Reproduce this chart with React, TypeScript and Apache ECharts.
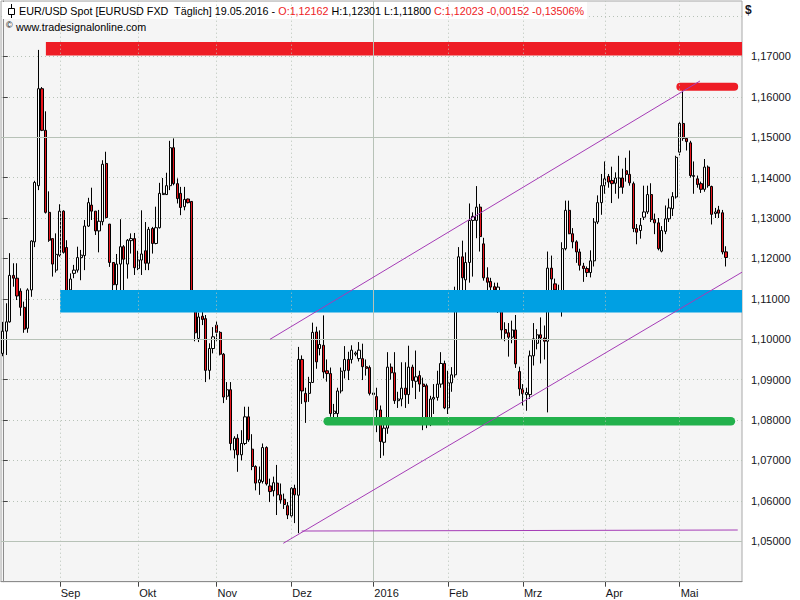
import React, { useEffect, useRef } from 'react';
import * as echarts from 'echarts';

// ---------- data ----------
const START_DATE = '2015-08-10';
const END_DATE = '2016-05-19';
const EMPTY_SLOTS_AFTER = 4;

// [open, close, low, high]
const aug2015 = [
  [1.0965, 1.1020, 1.0958, 1.1043], [1.1020, 1.1043, 1.0961, 1.1089], [1.1043, 1.1158, 1.1041, 1.1213],
  [1.1158, 1.1151, 1.1130, 1.1188], [1.1151, 1.1107, 1.1097, 1.1188], [1.1119, 1.1079, 1.1058, 1.1126],
  [1.1079, 1.1025, 1.1016, 1.1093], [1.1027, 1.1122, 1.1016, 1.1126], [1.1122, 1.1243, 1.1105, 1.1245],
  [1.1241, 1.1388, 1.1228, 1.1392], [1.1380, 1.1620, 1.1369, 1.1716], [1.1620, 1.1517, 1.1515, 1.1624],
  [1.1517, 1.1314, 1.1311, 1.1564], [1.1314, 1.1245, 1.1241, 1.1366], [1.1249, 1.1186, 1.1155, 1.1249],
  [1.1171, 1.1210, 1.1165, 1.1262],
];
const sep2015 = [
  [1.1208, 1.1317, 1.1204, 1.1334], [1.1317, 1.1215, 1.1212, 1.1319], [1.1227, 1.1120, 1.1090, 1.1245],
  [1.1122, 1.1149, 1.1090, 1.1163], [1.1163, 1.1171, 1.1151, 1.1184], [1.1171, 1.1202, 1.1165, 1.1229],
  [1.1202, 1.1208, 1.1146, 1.1221], [1.1207, 1.1280, 1.1171, 1.1295], [1.1280, 1.1338, 1.1278, 1.1350],
  [1.1332, 1.1317, 1.1295, 1.1375], [1.1317, 1.1268, 1.1258, 1.1317], [1.1268, 1.1292, 1.1215, 1.1320],
  [1.1291, 1.1433, 1.1282, 1.1443], [1.1435, 1.1301, 1.1299, 1.1464], [1.1285, 1.1190, 1.1179, 1.1285],
  [1.1190, 1.1135, 1.1100, 1.1190], [1.1135, 1.1186, 1.1110, 1.1211], [1.1186, 1.1229, 1.1110, 1.1297],
  [1.1229, 1.1198, 1.1120, 1.1233], [1.1186, 1.1245, 1.1150, 1.1248], [1.1244, 1.1249, 1.1212, 1.1262],
  [1.1249, 1.1177, 1.1159, 1.1263],
];
const oct2015 = [
  [1.1175, 1.1196, 1.1171, 1.1219], [1.1196, 1.1211, 1.1159, 1.1319], [1.1219, 1.1188, 1.1171, 1.1290],
  [1.1188, 1.1272, 1.1171, 1.1278], [1.1274, 1.1237, 1.1212, 1.1278], [1.1237, 1.1276, 1.1235, 1.1328],
  [1.1276, 1.1361, 1.1274, 1.1387], [1.1358, 1.1361, 1.1357, 1.1399], [1.1358, 1.1380, 1.1357, 1.1412],
  [1.1380, 1.1474, 1.1369, 1.1491], [1.1474, 1.1385, 1.1381, 1.1497], [1.1385, 1.1348, 1.1336, 1.1398],
  [1.1361, 1.1326, 1.1307, 1.1377], [1.1328, 1.1346, 1.1319, 1.1377], [1.1347, 1.1338, 1.1336, 1.1348],
  [1.1341, 1.1107, 1.1100, 1.1342], [1.1105, 1.1016, 1.0995, 1.1110], [1.1002, 1.1055, 1.0993, 1.1066],
  [1.1057, 1.1049, 1.1035, 1.1070], [1.1051, 1.0923, 1.0894, 1.1060], [1.0923, 1.0977, 1.0901, 1.0990],
  [1.0977, 1.1006, 1.0965, 1.1030],
];
const nov2015 = [
  [1.1035, 1.1017, 1.0995, 1.1045], [1.1017, 1.0963, 1.0960, 1.1020], [1.0963, 1.0857, 1.0842, 1.0966],
  [1.0859, 1.0875, 1.0850, 1.0894], [1.0875, 1.0742, 1.0725, 1.0894], [1.0726, 1.0755, 1.0705, 1.0760],
  [1.0755, 1.0714, 1.0672, 1.0765], [1.0714, 1.0742, 1.0700, 1.0775], [1.0742, 1.0808, 1.0738, 1.0833],
  [1.0808, 1.0751, 1.0746, 1.0833], [1.0728, 1.0685, 1.0676, 1.0765], [1.0685, 1.0644, 1.0626, 1.0688],
  [1.0645, 1.0652, 1.0615, 1.0685], [1.0648, 1.0732, 1.0643, 1.0742], [1.0732, 1.0642, 1.0638, 1.0735],
  [1.0637, 1.0623, 1.0597, 1.0655], [1.0625, 1.0645, 1.0611, 1.0660], [1.0644, 1.0615, 1.0565, 1.0689],
  [1.0615, 1.0602, 1.0593, 1.0643], [1.0604, 1.0591, 1.0580, 1.0618], [1.0588, 1.0565, 1.0555, 1.0597],
];
const dec2015 = [
  [1.0563, 1.0631, 1.0558, 1.0634], [1.0631, 1.0615, 1.0545, 1.0640], [1.0614, 1.0950, 1.0520, 1.0981],
  [1.0950, 1.0872, 1.0840, 1.0960], [1.0866, 1.0845, 1.0793, 1.0880], [1.0866, 1.0893, 1.0845, 1.0907],
  [1.0893, 1.1017, 1.0892, 1.1041], [1.1018, 1.0944, 1.0927, 1.1031], [1.0977, 1.0987, 1.0960, 1.1022],
  [1.0985, 1.0919, 1.0903, 1.1059], [1.0922, 1.0915, 1.0895, 1.0950], [1.0915, 1.0816, 1.0808, 1.0930],
  [1.0816, 1.0822, 1.0800, 1.0840], [1.0816, 1.0872, 1.0805, 1.0880], [1.0872, 1.0921, 1.0866, 1.0930],
  [1.0922, 1.0950, 1.0903, 1.0983], [1.0950, 1.0923, 1.0899, 1.0969], [1.0950, 1.0973, 1.0940, 1.0985],
  [1.0963, 1.0966, 1.0958, 1.0970], [1.0952, 1.0973, 1.0945, 1.0993], [1.0952, 1.0932, 1.0899, 1.0989],
  [1.0932, 1.0928, 1.0910, 1.0950], [1.0930, 1.0866, 1.0861, 1.0935],
];
const jan2016 = [
  [1.0863, 1.0867, 1.0855, 1.0873], [1.0858, 1.0825, 1.0770, 1.0880], [1.0825, 1.0747, 1.0706, 1.0836],
  [1.0745, 1.0780, 1.0712, 1.0800], [1.0780, 1.0931, 1.0766, 1.0968], [1.0931, 1.0917, 1.0900, 1.0940],
  [1.0917, 1.0848, 1.0840, 1.0968], [1.0848, 1.0852, 1.0830, 1.0870], [1.0852, 1.0879, 1.0834, 1.0943],
  [1.0879, 1.0863, 1.0830, 1.0943], [1.0863, 1.0931, 1.0840, 1.0984], [1.0931, 1.0898, 1.0880, 1.0937],
  [1.0896, 1.0907, 1.0852, 1.0972], [1.0910, 1.0889, 1.0870, 1.0922], [1.0889, 1.0883, 1.0775, 1.0905],
  [1.0885, 1.0795, 1.0780, 1.0890], [1.0795, 1.0852, 1.0785, 1.0860], [1.0852, 1.0856, 1.0815, 1.0889],
  [1.0856, 1.0889, 1.0848, 1.0922], [1.0889, 1.0940, 1.0880, 1.0968], [1.0940, 1.0830, 1.0827, 1.0947],
];
const feb2016 = [
  [1.0830, 1.0892, 1.0815, 1.0922], [1.0892, 1.0912, 1.0870, 1.0931], [1.0912, 1.1120, 1.0905, 1.1130],
  [1.1120, 1.1204, 1.1090, 1.1228], [1.1204, 1.1152, 1.1105, 1.1244], [1.1147, 1.1190, 1.1120, 1.1215],
  [1.1190, 1.1294, 1.1140, 1.1336], [1.1294, 1.1304, 1.1155, 1.1314], [1.1294, 1.1327, 1.1250, 1.1379],
  [1.1327, 1.1254, 1.1217, 1.1335], [1.1236, 1.1152, 1.1145, 1.1251], [1.1152, 1.1141, 1.1120, 1.1178],
  [1.1143, 1.1129, 1.1110, 1.1152], [1.1130, 1.1122, 1.1090, 1.1140], [1.1120, 1.1129, 1.1065, 1.1140],
  [1.1100, 1.1023, 1.1001, 1.1110], [1.1024, 1.1015, 1.0995, 1.1042], [1.1016, 1.1005, 1.0957, 1.1040],
  [1.1005, 1.1023, 1.0990, 1.1046], [1.1023, 1.0939, 1.0929, 1.1060], [1.0920, 1.0877, 1.0860, 1.0932],
];
const mar2016 = [
  [1.0877, 1.0865, 1.0836, 1.0889], [1.0863, 1.0868, 1.0823, 1.0880], [1.0863, 1.0959, 1.0852, 1.0972],
  [1.0959, 1.1001, 1.0935, 1.1040], [1.0990, 1.1011, 1.0975, 1.1025], [1.1011, 1.1003, 1.0940, 1.1054],
  [1.1003, 1.0995, 1.0950, 1.1034], [1.0995, 1.1176, 1.0819, 1.1217], [1.1176, 1.1149, 1.1120, 1.1207],
  [1.1137, 1.1122, 1.1100, 1.1150], [1.1120, 1.1100, 1.1090, 1.1135], [1.1105, 1.1224, 1.1056, 1.1240],
  [1.1224, 1.1319, 1.1220, 1.1343], [1.1319, 1.1261, 1.1260, 1.1343], [1.1261, 1.1241, 1.1225, 1.1275],
  [1.1241, 1.1216, 1.1189, 1.1245], [1.1216, 1.1183, 1.1170, 1.1224], [1.1181, 1.1175, 1.1142, 1.1189],
  [1.1175, 1.1165, 1.1154, 1.1180], [1.1165, 1.1194, 1.1153, 1.1220], [1.1194, 1.1290, 1.1180, 1.1300],
  [1.1290, 1.1338, 1.1285, 1.1356], [1.1338, 1.1380, 1.1308, 1.1409],
];
const apr2016 = [
  [1.1380, 1.1397, 1.1360, 1.1440], [1.1403, 1.1389, 1.1375, 1.1409], [1.1393, 1.1385, 1.1337, 1.1427],
  [1.1386, 1.1399, 1.1360, 1.1413], [1.1376, 1.1399, 1.1348, 1.1454], [1.1399, 1.1376, 1.1360, 1.1422],
  [1.1417, 1.1408, 1.1390, 1.1449], [1.1408, 1.1387, 1.1380, 1.1467], [1.1385, 1.1274, 1.1265, 1.1390],
  [1.1274, 1.1265, 1.1235, 1.1285], [1.1269, 1.1282, 1.1249, 1.1300], [1.1302, 1.1315, 1.1295, 1.1380],
  [1.1315, 1.1358, 1.1310, 1.1380], [1.1358, 1.1296, 1.1290, 1.1386], [1.1296, 1.1288, 1.1260, 1.1311],
  [1.1288, 1.1224, 1.1220, 1.1300], [1.1218, 1.1269, 1.1215, 1.1280], [1.1267, 1.1298, 1.1260, 1.1331],
  [1.1298, 1.1325, 1.1290, 1.1348], [1.1323, 1.1353, 1.1305, 1.1364], [1.1352, 1.1450, 1.1348, 1.1454],
];
const may2016 = [
  [1.1463, 1.1534, 1.1455, 1.1537], [1.1534, 1.1497, 1.1491, 1.1616], [1.1497, 1.1489, 1.1467, 1.1500],
  [1.1486, 1.1405, 1.1400, 1.1491], [1.1403, 1.1405, 1.1360, 1.1440], [1.1397, 1.1383, 1.1375, 1.1405],
  [1.1385, 1.1371, 1.1362, 1.1390], [1.1371, 1.1426, 1.1365, 1.1446], [1.1426, 1.1380, 1.1375, 1.1430],
  [1.1378, 1.1309, 1.1284, 1.1380], [1.1311, 1.1315, 1.1300, 1.1325], [1.1320, 1.1312, 1.1300, 1.1330],
  [1.1313, 1.1216, 1.1210, 1.1320], [1.12162, 1.12023, 1.11800, 1.12301],
];

const MONTH_NAMES = ['Jan', 'Feb', 'Mrz', 'Apr', 'Mai', 'Jun', 'Jul', 'Aug', 'Sep', 'Okt', 'Nov', 'Dez'];
const Y_MIN = 1.04;
const Y_MAX = 1.1837;
const Y_STEP = 0.01;
const Y_LABEL_MIN = 1.05;
const Y_LABEL_MAX = 1.17;
const SOLID_PRICE_LINES = [1.05, 1.10, 1.15];

// horizontal marker bands: [from slot, to slot, price, px thickness, color, cap]
const bandRedTop = [12.1, 207.5, 1.1719, 13.5, '#ee1c25', 'butt'];
const bandRedSmall = [190.2, 205.3, 1.16247, 8, '#ee1c25', 'round'];
const bandBlue = [16.1, 207.5, 1.10939, 22.5, '#00a0e3', 'butt'];
const bandGreen = [91.2, 204.4, 1.0797, 8.5, '#22b14c', 'round'];

// trend lines: [[slot, price], [slot, price]]
const channelUpper = [[75.0, 1.09998], [195.7, 1.1639]];
const channelLower = [[78.74, 1.0495], [207.5, 1.11659]];
const lowLine = [[83.9, 1.05254], [206.3, 1.05279]];

const TITLE_PARTS: [string, string][] = [
  ['k', 'EUR/USD Spot [EURUSD FXD  Täglich] 19.05.2016 - '],
  ['r', 'O:1,12162'],
  ['k', ' H:1,12301 L:1,11800 '],
  ['r', 'C:1,12023 -0,00152 -0,13506%'],
];
const SOURCE_TEXT = 'www.tradesignalonline.com';

// ---------- helpers ----------
function weekdays(start: string, count: number | null, end?: string): string[] {
  const out: string[] = [];
  const d = new Date(start + 'T00:00:00Z');
  const e = end ? new Date(end + 'T00:00:00Z') : null;
  while (e ? d <= e : out.length < (count as number)) {
    const wd = d.getUTCDay();
    if (wd !== 0 && wd !== 6) out.push(d.toISOString().slice(0, 10));
    d.setUTCDate(d.getUTCDate() + 1);
  }
  return out;
}

const FONT = '"Liberation Sans", Arial, sans-serif';

function buildOption() {
  const ohlc = [...aug2015, ...sep2015, ...oct2015, ...nov2015, ...dec2015, ...jan2016, ...feb2016, ...mar2016, ...apr2016, ...may2016];
  const tradeDates = weekdays(START_DATE, null, END_DATE);
  const nextDay = new Date(END_DATE + 'T00:00:00Z');
  nextDay.setUTCDate(nextDay.getUTCDate() + 1);
  const padDates = weekdays(nextDay.toISOString().slice(0, 10), EMPTY_SLOTS_AFTER);
  const allDates = [...tradeDates, ...padDates];
  const N = allDates.length;

  const monthStarts: number[] = [];
  for (let i = 1; i < tradeDates.length; i++) {
    if (tradeDates[i].slice(5, 7) !== tradeDates[i - 1].slice(5, 7)) monthStarts.push(i);
  }
  const monthSet = new Set(monthStarts);
  const labelFor = (d: string) => {
    const m = parseInt(d.slice(5, 7), 10) - 1;
    return m === 0 ? d.slice(0, 4) : MONTH_NAMES[m];
  };

  const gridColor = '#b7c2b7';
  const markData: any[] = [];
  monthStarts.forEach((i) => {
    const isYear = tradeDates[i].slice(5, 7) === '01';
    markData.push({ xAxis: i, lineStyle: { color: gridColor, width: 1, type: isYear ? 'solid' : [1, 3] } });
  });
  SOLID_PRICE_LINES.forEach((p) => markData.push({ yAxis: p, lineStyle: { color: gridColor, width: 1, type: 'solid' } }));

  const bandSeries = [bandRedTop, bandRedSmall, bandBlue, bandGreen].map((b) => ({
    type: 'line',
    xAxisIndex: 1,
    yAxisIndex: 0,
    z: 4,
    silent: true,
    symbol: 'none',
    data: [[b[0], b[2]], [b[1], b[2]]],
    lineStyle: { color: b[4], width: b[3], cap: b[5] },
    emphasis: { disabled: true },
  }));
  const trendSeries = [channelUpper, channelLower, lowLine].map((l) => ({
    type: 'line',
    xAxisIndex: 1,
    yAxisIndex: 0,
    z: 5,
    silent: true,
    symbol: 'none',
    data: l,
    lineStyle: { color: '#a53cb6', width: 1 },
    emphasis: { disabled: true },
  }));

  const titleFont = '10.75px ' + FONT;
  const rich: any = {
    k: { fill: '#000000', font: titleFont },
    r: { fill: '#ee1c25', font: titleFont },
  };
  const titleText = TITLE_PARTS.map(([c, t]) => `{${c}|${t}}`).join('');

  return {
    animation: false,
    backgroundColor: '#ffffff',
    textStyle: { fontFamily: FONT },
    grid: {
      left: 1, right: 58, top: 1, bottom: 18.3,
      show: true, backgroundColor: '#f5f5f5', borderColor: '#a8a8a8', borderWidth: 1,
    },
    xAxis: [
      {
        type: 'category',
        data: allDates,
        boundaryGap: true,
        axisLine: { show: true, lineStyle: { color: '#8c8c8c', width: 1 } },
        axisTick: { show: true, interval: (i: number) => monthSet.has(i), alignWithLabel: true, length: 5, lineStyle: { color: '#444' } },
        axisLabel: {
          interval: (i: number) => monthSet.has(i),
          formatter: (v: string) => labelFor(v),
          align: 'left', margin: 6, fontSize: 11, color: '#151520', padding: [0, 0, 0, 1],
          fontFamily: FONT,
        },
        splitLine: { show: false },
      },
      { type: 'value', min: -0.5, max: N - 0.5, show: false },
    ],
    yAxis: {
      type: 'value',
      position: 'right',
      min: Y_MIN,
      max: Y_MAX,
      interval: Y_STEP,
      axisLine: { show: true, lineStyle: { color: '#8c8c8c', width: 1 } },
      axisTick: { show: true, length: 5, lineStyle: { color: '#444' } },
      axisLabel: {
        showMinLabel: false,
        showMaxLabel: false,
        margin: 9,
        fontSize: 11,
        color: '#151520',
        fontFamily: FONT,
        formatter: (v: number) =>
          v < Y_LABEL_MIN - 1e-9 || v > Y_LABEL_MAX + 1e-9 ? '' : v.toFixed(5).replace('.', ','),
      },
      splitLine: { show: true, showMinLine: false, showMaxLine: false, lineStyle: { color: gridColor, width: 1, type: [1, 3] } },
    },
    series: [
      {
        type: 'line',
        xAxisIndex: 1,
        yAxisIndex: 0,
        data: [],
        z: 2,
        silent: true,
        markLine: { silent: true, symbol: ['none', 'none'], label: { show: false }, animation: false, data: markData },
      },
      {
        type: 'candlestick',
        xAxisIndex: 0,
        yAxisIndex: 0,
        z: 3,
        barWidth: 2.6,
        data: ohlc,
        itemStyle: { color: '#ffffff', color0: '#e8151c', borderColor: '#000000', borderColor0: '#000000', borderWidth: 1 },
        emphasis: { disabled: true },
        silent: true,
      },
      ...bandSeries,
      ...trendSeries,
    ],
    graphic: [
      { type: 'rect', z: 1, silent: true, shape: { x: 2, y: 2, width: 585, height: 17 }, style: { fill: '#ffffff' } },
      { type: 'line', z: 10, silent: true, shape: { x1: 11.5, y1: 4, x2: 11.5, y2: 18 }, style: { stroke: '#000', lineWidth: 1 } },
      { type: 'rect', z: 11, silent: true, shape: { x: 8.5, y: 8.5, width: 6, height: 6 }, style: { fill: '#fff', stroke: '#000', lineWidth: 1 } },
      { type: 'text', z: 10, silent: true, x: 19, y: 11, style: { text: titleText, rich, font: titleFont, verticalAlign: 'middle', fill: '#000' } },
      { type: 'text', z: 10, silent: true, x: 6, y: 25, style: { text: '©', font: '9px ' + FONT, verticalAlign: 'middle', fill: '#000' } },
      { type: 'text', z: 10, silent: true, x: 16, y: 27, style: { text: SOURCE_TEXT, font: '10.75px ' + FONT, verticalAlign: 'middle', fill: '#000' } },
      { type: 'text', z: 10, silent: true, x: 745, y: 10, style: { text: '$', font: 'bold 12px ' + FONT, verticalAlign: 'middle', fill: '#151520' } },
    ],
  };
}

export default function App() {
  const ref = useRef<HTMLDivElement>(null);
  useEffect(() => {
    if (!ref.current) return;
    const chart = echarts.init(ref.current, null, { renderer: 'svg' });
    chart.setOption(buildOption() as any);
    return () => chart.dispose();
  }, []);
  return (
    <div
      ref={ref}
      style={{ position: 'fixed', left: 0, top: 0, width: 800, height: 600, background: '#fff' }}
    />
  );
}
